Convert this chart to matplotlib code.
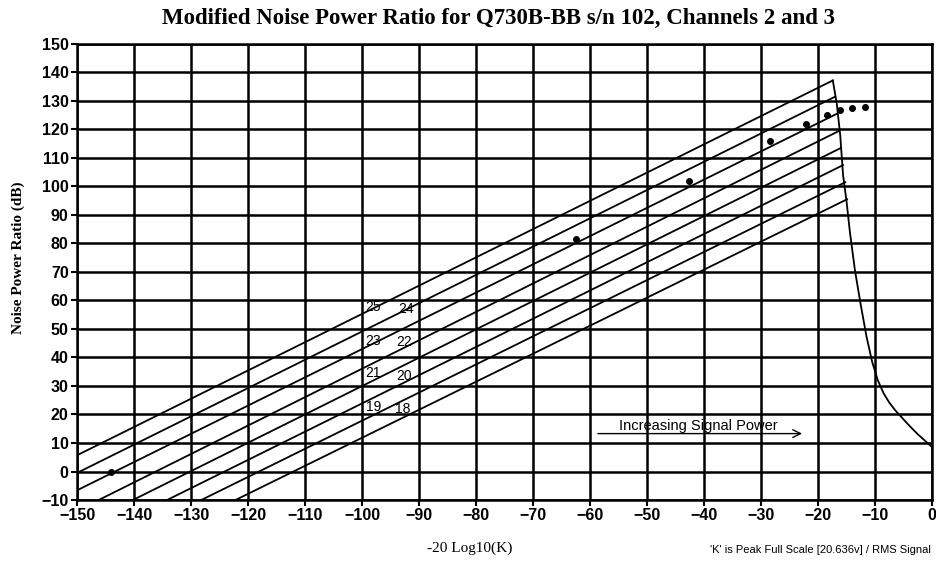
import matplotlib
matplotlib.use('Agg')
import matplotlib.pyplot as plt

# ideal NPR lines per bit count
bits = [25, 24, 23, 22, 21, 20, 19, 18]
line_start_x = [-150, -150, -150, -146.2, -140.2, -134.2, -128.2, -122.2]
line_start_y = [5.7, -0.5, -6.6, -10, -10, -10, -10, -10]
line_end_x = [-17.4, -17.0, -16.7, -16.3, -16.0, -15.6, -15.2, -14.9]
line_end_y = [137.2, 131.5, 125.5, 119.5, 113.5, 107.5, 101.5, 95.5]

# clipping roll-off, shared by all lines
clip_x = [-17.4, -16.7, -16.1, -15.6, -15.0, -14.4, -13.5, -12.5, -11.5, -10.5, -9.5,
          -8.5, -7.5, -6.5, -5.5, -4.5, -3.5, -2.5, -1.5, -0.5, 0.0]
clip_y = [137.2, 129.0, 118.0, 104.0, 95.0, 84.0, 70.4, 58.5, 47.5, 38.5, 32.0,
          27.5, 24.2, 21.6, 19.4, 17.2, 15.1, 13.1, 11.3, 9.5, 8.6]

# measured points
meas_x = [-144.0, -62.5, -42.6, -28.4, -22.1, -18.5, -16.1, -14.1, -11.8]
meas_y = [-0.1, 81.7, 101.9, 115.9, 121.9, 125.0, 127.0, 127.5, 127.9]

# bit labels
label_text = ['25', '24', '23', '22', '21', '20', '19', '18']
label_x = [-98.0, -92.3, -98.0, -92.6, -98.0, -92.6, -98.0, -92.8]
label_y = [57.6, 57.1, 45.9, 45.3, 34.4, 33.4, 22.6, 21.8]

x_ticks = list(range(-150, 1, 10))
y_ticks = list(range(-10, 151, 10))

fig = plt.figure(figsize=(9.36, 5.66), dpi=100, facecolor='white')
ax = fig.add_axes([0.0823, 0.1166, 0.9134, 0.8057])

for i in range(len(bits)):
    ax.plot([line_start_x[i], line_end_x[i]], [line_start_y[i], line_end_y[i]],
            color='black', linewidth=1.3, zorder=3)
ax.plot(clip_x, clip_y, color='black', linewidth=1.3, zorder=3)
ax.plot(meas_x, meas_y, 'o', color='black', markersize=4, linestyle='none', zorder=4)

for t, x, y in zip(label_text, label_x, label_y):
    ax.text(x, y, t, fontsize=10, family='Liberation Sans', ha='center', va='center', zorder=5)

# arrow annotation
ax.annotate('', xy=(-22.3, 13.3), xytext=(-59.1, 13.3),
            arrowprops=dict(arrowstyle='->', color='black', lw=1.0, mutation_scale=14))
ax.text(-41.0, 16.0, 'Increasing Signal Power', fontsize=10.5, family='Liberation Sans',
        ha='center', va='center')

ax.set_xlim(-150, 0)
ax.set_ylim(-10, 150)
ax.set_xticks(x_ticks)
ax.set_yticks(y_ticks)
ax.grid(True, color='black', linewidth=1.8)
ax.set_axisbelow(True)
for s in ax.spines.values():
    s.set_linewidth(1.8)
ax.tick_params(direction='out', length=4, width=1.5, pad=2)
for lab in ax.get_xticklabels() + ax.get_yticklabels():
    lab.set_family('Liberation Sans')
    lab.set_fontweight('bold')
    lab.set_fontsize(11.5)

fig.text(0.533, 0.968, 'Modified Noise Power Ratio for Q730B-BB s/n 102, Channels 2 and 3',
         family='Liberation Serif', fontweight='bold', fontsize=16.5, ha='center', va='center')
fig.text(0.019, 0.544, 'Noise Power Ratio (dB)', family='Liberation Serif', fontsize=11,
         fontweight='bold', rotation=90, ha='center', va='center')
fig.text(0.502, 0.032, '-20 Log10(K)', family='Liberation Serif', fontsize=11,
         ha='center', va='center')
fig.text(0.995, 0.028, "'K' is Peak Full Scale [20.636v] / RMS Signal", family='Liberation Sans',
         fontsize=8, ha='right', va='center')

fig.savefig('out.png', dpi=100, facecolor='white')
